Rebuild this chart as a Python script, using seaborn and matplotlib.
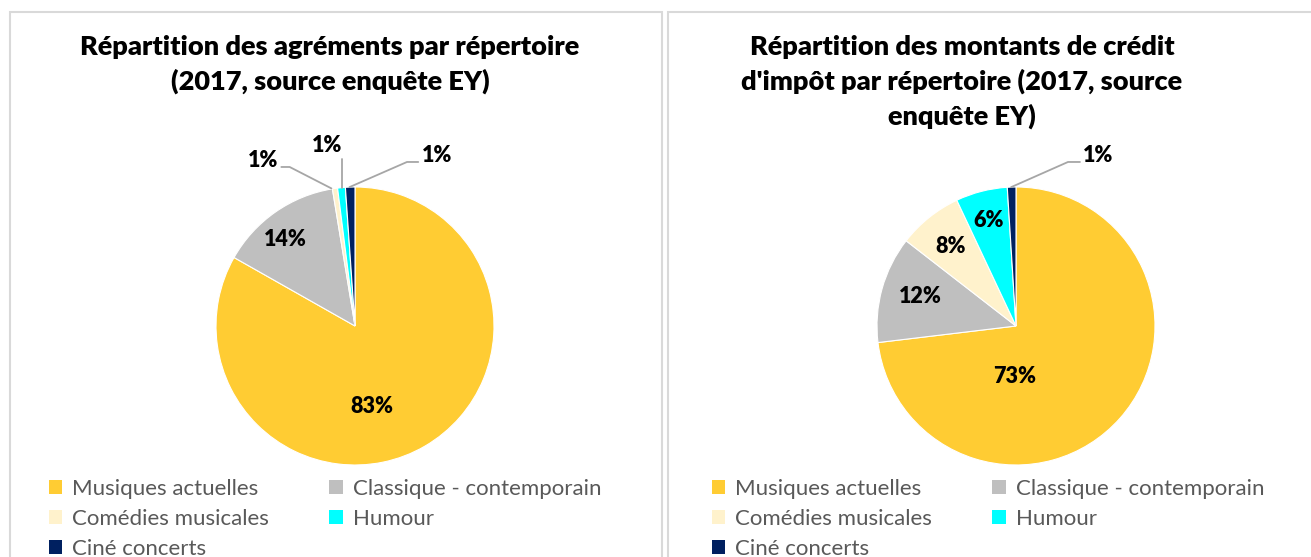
import numpy as np
import seaborn as sns
import matplotlib.pyplot as plt
from matplotlib.patches import Rectangle

# Data (share in %)
categories = ["Musiques actuelles", "Classique - contemporain", "Comédies musicales", "Humour", "Ciné concerts"]
agrements = [83.2, 14.2, 0.6, 0.9, 1.1]
credit_impot = [73.1, 12.4, 7.5, 6.0, 1.0]

title_left = "Répartition des agréments par répertoire\n(2017, source enquête EY)"
title_right = "Répartition des montants de crédit\nd'impôt par répertoire (2017, source\nenquête EY)"

colors = ["#FFCC33", "#BFBFBF", "#FFF2CC", "#00FFFF", "#002060"]

sns.set_theme(style="white")
plt.rcParams['font.family'] = ['Lato', 'DejaVu Sans']

W, H = 1311, 557
fig = plt.figure(figsize=(W / 100, H / 100), dpi=100)
fig.patch.set_facecolor("white")

# panel borders
for x0, x1 in [(10, 662), (668, 1330)]:
    fig.patches.append(Rectangle((x0 / W, -0.1), (x1 - x0) / W, 1.1 - 12 / H,
                                 transform=fig.transFigure, fill=False,
                                 edgecolor="#D9D9D9", linewidth=1.5))

R = 139


def draw_pie(values, cx, cy, title, tx, label_pos, leaders):
    ax = fig.add_axes([(cx - R) / W, (H - cy - R) / H, 2 * R / W, 2 * R / H])
    wedges, _ = ax.pie(values, colors=colors, startangle=90, counterclock=False,
                       wedgeprops=dict(edgecolor="white", linewidth=0.8))
    ax.set_xlim(-1, 1)
    ax.set_ylim(-1, 1)
    ax.set_aspect("equal")
    ax.axis("off")
    for v, (lx, ly) in zip(values, label_pos):
        ax.text(lx, ly, f"{round(v):d}%", ha="center", va="center",
                fontsize=15.5, fontweight="heavy", color="black", clip_on=False)
    for pts in leaders:
        xs, ys = zip(*pts)
        ax.plot(xs, ys, color="#A6A6A6", lw=1.3, clip_on=False)
    fig.text(tx / W, 1 - 35 / H, title, ha="center", va="top", fontsize=19.5,
             fontweight="heavy", color="black", linespacing=1.45)
    return wedges


# label positions (in pie radius units) and leader lines
left_labels = [(0.12, -0.58), (-0.50, 0.62), (-0.66, 1.19), (-0.20, 1.30), (0.59, 1.23)]
left_leaders = [
    [(-0.17, 0.99), (-0.47, 1.144), (-0.53, 1.144)],
    [(-0.094, 0.996), (-0.094, 1.20)],
    [(-0.04, 0.999), (0.374, 1.18), (0.455, 1.18)],
]
right_labels = [(-0.01, -0.36), (-0.69, 0.21), (-0.47, 0.57), (-0.20, 0.76), (0.59, 1.23)]
right_leaders = [
    [(-0.035, 0.999), (0.374, 1.18), (0.46, 1.18)],
]

wl = draw_pie(agrements, 355, 326, title_left, 330, left_labels, left_leaders)
wr = draw_pie(credit_impot, 1016, 326, title_right, 962, right_labels, right_leaders)

# legends, row-wise order like the original
order = [0, 2, 4, 1, 3]
for wedges, lx in [(wl, 38), (wr, 701)]:
    leg = fig.legend([wedges[i] for i in order], [categories[i] for i in order],
                     ncol=2, loc="upper left", bbox_to_anchor=(lx / W, 1 - 468 / H),
                     frameon=False, fontsize=16, handlelength=0.6, handleheight=0.6,
                     handletextpad=0.45, columnspacing=2.7, labelspacing=0.45,
                     borderpad=0)
    for t in leg.get_texts():
        t.set_color("#595959")
    for h in leg.legend_handles:
        h.set_edgecolor("none")

plt.savefig("out.png", dpi=100)
